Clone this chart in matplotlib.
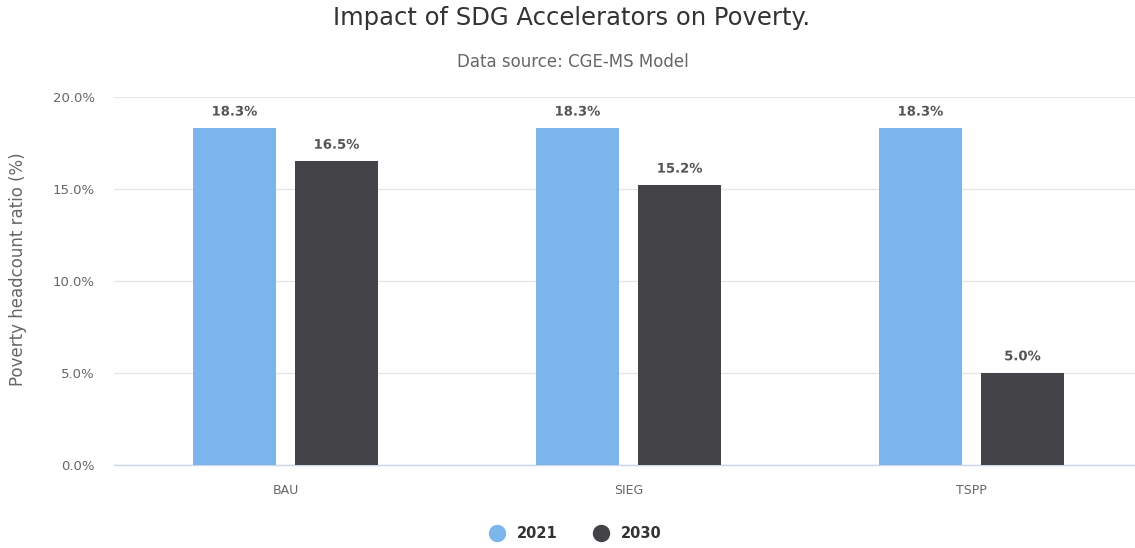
import matplotlib.pyplot as plt
import matplotlib.patheffects as pe
import numpy as np
from matplotlib.lines import Line2D

plt.rcParams['font.family'] = ['DejaVu Sans']

scenarios = ['BAU', 'SIEG', 'TSPP']
years = ['2021', '2030']
poverty_2021 = [18.3, 18.3, 18.3]
poverty_2030 = [16.5, 15.2, 5.0]
colors = ['#7cb5ec', '#434348']

fig = plt.figure(figsize=(11.35, 5.48), dpi=100)
ax = fig.add_axes([114/1135, 1-465/548, 1029/1135, 368/548])

x = np.arange(len(scenarios))
width = 0.242
offset = 0.1487
for vals, off, col in zip([poverty_2021, poverty_2030], [-offset, offset], colors):
    bars = ax.bar(x + off, vals, width, color=col, zorder=3)
    for b, v in zip(bars, vals):
        t = ax.annotate(f'{v:.1f}%', (b.get_x() + b.get_width()/2, v),
                        xytext=(0, 7), textcoords='offset points',
                        ha='center', va='bottom', fontsize=9.5,
                        fontweight='bold', color='#555555', zorder=4)
        t.set_path_effects([pe.withStroke(linewidth=2.5, foreground='white')])

ax.set_xlim(-0.5, 2.5)
ax.set_ylim(0, 20)
ax.set_yticks([0, 5, 10, 15, 20])
ax.set_yticklabels([f'{v:.1f}%' for v in [0, 5, 10, 15, 20]])
ax.set_xticks(x)
ax.set_xticklabels(scenarios)
ax.tick_params(axis='both', length=0, labelcolor='#666666')
ax.tick_params(axis='y', pad=14, labelsize=9.5)
ax.tick_params(axis='x', pad=14, labelsize=9)
ax.grid(axis='y', color='#e6e6e6', linewidth=1, zorder=0)
for s in ['top', 'right', 'left']:
    ax.spines[s].set_visible(False)
ax.spines['bottom'].set_color('#ccd6eb')
ax.spines['bottom'].set_linewidth(1)

# axis title placed by hand, a little above the plot's middle
fig.text(18/1135, 1-269/548, 'Poverty headcount ratio (%)', rotation=90,
         ha='center', va='center', fontsize=12, color='#666666')

fig.text(572/1135, 1-18/548, 'Impact of SDG Accelerators on Poverty.', ha='center',
         va='center', fontsize=17.5, color='#333333')
fig.text(573/1135, 1-62/548, 'Data source: CGE-MS Model', ha='center',
         va='center', fontsize=12, color='#666666')

handles = [Line2D([], [], marker='o', linestyle='none', markersize=11.5,
                  markerfacecolor=c, markeredgecolor=c) for c in colors]
leg = fig.legend(handles, years, loc='center', bbox_to_anchor=(572/1135, 1-534/548),
                 ncol=2, frameon=False, handletextpad=0.35, columnspacing=2.0,
                 prop={'size': 10.5, 'weight': 'bold'})
for t in leg.get_texts():
    t.set_color('#333333')

fig.savefig('out.png', dpi=100)
